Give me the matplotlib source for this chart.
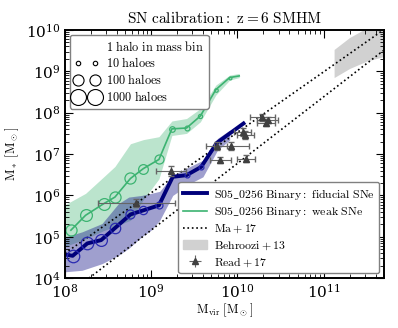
import numpy as np
import matplotlib
matplotlib.use('Agg')
import matplotlib.pyplot as plt
from matplotlib.lines import Line2D
from matplotlib.patches import Patch

plt.rcParams['mathtext.fontset'] = 'cm'
plt.rcParams['font.family'] = 'serif'
plt.rcParams['font.serif'] = ['DejaVu Serif']

# log10 values
fid_logm = [7.98, 8.09, 8.26, 8.42, 8.58, 8.76, 8.91, 9.09, 9.25, 9.41, 9.58, 9.76, 10.07]
fid_logms = [4.58, 4.54, 4.84, 4.92, 5.21, 5.54, 5.64, 5.76, 6.45, 6.49, 6.69, 7.27, 7.74]
fid_msize = [0, 9, 9, 8.5, 7.5, 6.5, 6, 5, 0, 3.5, 3.5, 0, 0]

fid_band_logm = [7.98, 8.2, 8.43, 8.62, 8.74, 8.89, 9.0, 9.1, 9.25, 9.45, 9.6, 9.77, 9.91]
fid_band_lo = [4.15, 4.19, 4.35, 4.55, 4.72, 5.0, 5.16, 5.4, 6.0, 6.29, 6.45, 7.1, 7.34]
fid_band_hi = [4.98, 5.12, 5.32, 5.8, 5.96, 6.0, 6.05, 6.1, 6.49, 6.7, 6.85, 7.38, 7.58]

weak_logm = [8.07, 8.24, 8.45, 8.58, 8.76, 8.91, 9.09, 9.24, 9.41, 9.57, 9.75, 9.91, 10.02]
weak_logms = [5.16, 5.52, 5.80, 5.96, 6.41, 6.65, 6.87, 7.61, 7.63, 7.92, 8.56, 8.85, 8.89]
weak_msize = [8, 8.5, 8.5, 8, 8, 7, 6.5, 4, 3.5, 3, 2.5, 2, 0]

weak_band_logm = [7.98, 8.24, 8.45, 8.58, 8.76, 8.91, 9.09, 9.24, 9.41, 9.57, 9.75, 9.91, 10.02]
weak_band_lo = [4.75, 4.95, 5.15, 5.25, 5.4, 5.9, 6.4, 7.45, 7.5, 7.78, 8.43, 8.79, 8.85]
weak_band_hi = [5.75, 6.05, 6.45, 6.7, 7.25, 7.35, 7.42, 7.8, 7.86, 8.1, 8.67, 8.91, 8.95]

ma_hi_logm = [8.0, 11.69]
ma_hi_logms = [4.6, 10.0]
ma_lo_logm = [8.28, 11.69]
ma_lo_logms = [4.0, 9.5]

beh_logm = [11.12, 11.3, 11.5, 11.7]
beh_lo = [8.85, 9.07, 9.25, 9.36]
beh_hi = [9.53, 9.82, 10.05, 10.2]

read_logm = [8.83, 9.23, 9.76, 9.93, 9.8, 10.1, 10.06, 10.09, 10.29, 10.35, 10.33]
read_logms = [5.82, 6.59, 7.20, 7.20, 6.86, 6.89, 7.54, 7.46, 7.89, 7.82, 7.76]
read_xerr = [0.45, 0.17, 0.12, 0.2, 0.12, 0.1, 0.1, 0.1, 0.15, 0.12, 0.1]
read_yerr = [0.1, 0.12, 0.1, 0.1, 0.08, 0.08, 0.1, 0.1, 0.08, 0.08, 0.08]

legend_counts = ['1 halo in mass bin', '10 haloes', '100 haloes', '1000 haloes']
legend_msize = [0, 3.2, 8, 11.5]


def p(a):
    return 10 ** np.array(a)


fig = plt.figure(figsize=(3.98, 3.28), dpi=100)
ax = fig.add_axes([0.163, 0.152, 0.802, 0.7565])

navy = '#00007a'
blue = '#2a2ab0'
green = '#3cb371'

ax.fill_between(p(weak_band_logm), p(weak_band_lo), p(weak_band_hi),
                color=green, alpha=0.35, lw=0)
ax.fill_between(p(fid_band_logm), p(fid_band_lo), p(fid_band_hi),
                color='#1a1a8c', alpha=0.42, lw=0)
ax.fill_between(p(beh_logm), p(beh_lo), p(beh_hi), color='0.82', lw=0)

ax.plot(p(ma_hi_logm), p(ma_hi_logms), 'k:', lw=1.2)
ax.plot(p(ma_lo_logm), p(ma_lo_logms), 'k:', lw=1.2)

ax.plot(p(weak_logm), p(weak_logms), color=green, lw=1.2)
for x, y, s in zip(weak_logm, weak_logms, weak_msize):
    if s > 0:
        ax.plot(10 ** x, 10 ** y, 'o', mfc='none', mec=green, ms=s, mew=0.9)

ax.plot(p(fid_logm), p(fid_logms), color=navy, lw=2.8)
for x, y, s in zip(fid_logm, fid_logms, fid_msize):
    if s > 0:
        ax.plot(10 ** x, 10 ** y, 'o', mfc='none', mec=blue, ms=s, mew=0.9)

rx = p(read_logm)
ry = p(read_logms)
xlo = rx - p(np.array(read_logm) - np.array(read_xerr))
xhi = p(np.array(read_logm) + np.array(read_xerr)) - rx
ylo = ry - p(np.array(read_logms) - np.array(read_yerr))
yhi = p(np.array(read_logms) + np.array(read_yerr)) - ry
ax.errorbar(rx, ry, xerr=[xlo, xhi], yerr=[ylo, yhi], fmt='^', color='0.25',
            ms=4, ecolor='0.4', elinewidth=0.8, capsize=2, zorder=5)

ax.set_xscale('log')
ax.set_yscale('log')
ax.set_xlim(1e8, 5e11)
ax.set_ylim(1e4, 1e10)
ax.tick_params(which='both', direction='in', top=True, right=True, labelsize=11)
ax.tick_params(which='major', length=6, pad=3)
ax.tick_params(which='minor', length=3)
for s in ax.spines.values():
    s.set_linewidth(1.4)

ax.set_xlabel(r'$\mathrm{M_{vir}\ [M_\odot]}$', fontsize=9, labelpad=1)
ax.set_ylabel(r'$\mathrm{M_*\ [M_\odot]}$', fontsize=9, labelpad=4)
ax.set_title(r'$\mathrm{SN\ calibration:\ z=6\ SMHM}$', fontsize=11, pad=5)

h1 = [Line2D([], [], ls='none', marker='o', mfc='none', mec='k', ms=s, mew=0.8)
      for s in legend_msize]
lab1 = [r'$\mathrm{' + t.replace(' ', r'\ ') + '}$' for t in legend_counts]
leg1 = ax.legend(h1, lab1, loc='upper left', numpoints=2, fontsize=8.8,
                 edgecolor='0.5', framealpha=1, handlelength=2.0,
                 handletextpad=0.6, borderaxespad=0.4, labelspacing=0.22)
ax.add_artist(leg1)

h2 = [Line2D([], [], color=navy, lw=2.8),
      Line2D([], [], color=green, lw=1.2),
      Line2D([], [], color='k', ls=':', lw=1.2),
      Patch(color='0.82'),
      ax.errorbar([], [], xerr=[], yerr=[], fmt='^', color='0.25', ms=4,
                  ecolor='0.4', elinewidth=0.8, capsize=2)]
lab2 = [r'$\mathrm{S05\_0256\ Binary:\ fiducial\ SNe}$',
        r'$\mathrm{S05\_0256\ Binary:\ weak\ SNe}$',
        r'$\mathrm{Ma+17}$',
        r'$\mathrm{Behroozi+13}$',
        r'$\mathrm{Read+17}$']
ax.legend(h2, lab2, loc='lower right', fontsize=8.5, edgecolor='0.5',
          framealpha=1, borderaxespad=0.4, handlelength=2.0,
          handletextpad=0.6, labelspacing=0.28)

fig.savefig('out.png', dpi=100)
